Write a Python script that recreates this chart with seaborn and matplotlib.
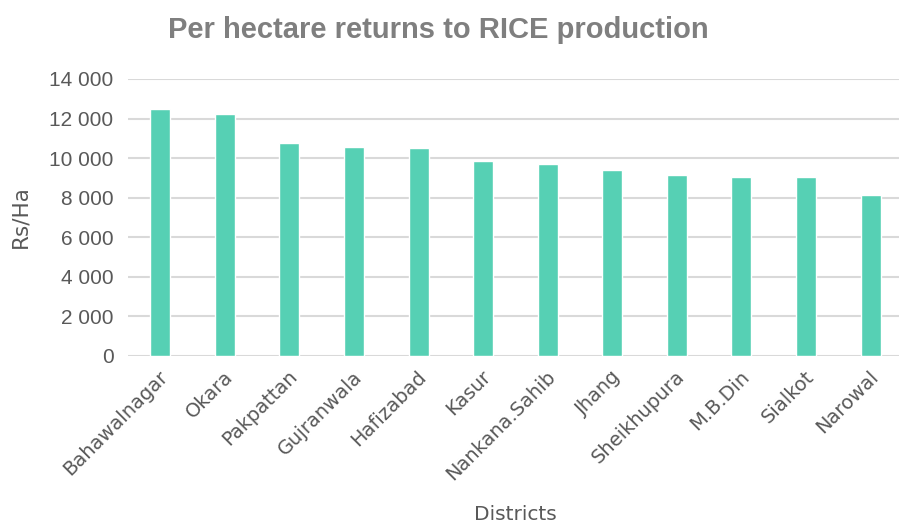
import matplotlib
matplotlib.use("Agg")
import matplotlib.pyplot as plt
import matplotlib.ticker as mticker
import matplotlib.transforms as mtrans
import seaborn as sns
import pandas as pd

districts = ["Bahawalnagar", "Okara", "Pakpattan", "Gujranwala", "Hafizabad", "Kasur",
             "Nankana.Sahib", "Jhang", "Sheikhupura", "M.B.Din", "Sialkot", "Narowal"]
returns_rs_ha = [12500, 12250, 10760, 10560, 10490, 9850, 9720, 9400, 9130, 9060, 9060, 8150]

df = pd.DataFrame({"District": districts, "Returns": returns_rs_ha})

sns.set_style("white")
plt.rcParams["font.family"] = ["Liberation Sans", "DejaVu Sans"]

fig = plt.figure(figsize=(8.99, 5.32), dpi=100)
ax = fig.add_axes([128 / 899, 1 - 355.7 / 532, 771 / 899, (355.7 - 79) / 532])

sns.barplot(data=df, x="District", y="Returns", color="#56D0B4", width=0.31,
            saturation=1, ax=ax, zorder=3)

ax.set_ylim(0, 14000)
ax.set_xlim(-0.5, 11.44)
ax.yaxis.set_major_locator(mticker.MultipleLocator(2000))
ax.yaxis.set_major_formatter(mticker.FuncFormatter(lambda v, p: f"{int(v):,}".replace(",", " ")))
ax.grid(axis="y", color="#d9d9d9", linewidth=1.5, zorder=0)
ax.grid(axis="x", visible=False)
for s in ax.spines.values():
    s.set_visible(False)

ax.tick_params(axis="y", length=0, pad=10.5, labelsize=15, labelcolor="#595959")
ax.tick_params(axis="x", length=0, pad=13)
ax.set_xticks(range(len(districts)))
ax.set_xticklabels(districts, rotation=45, ha="right", va="center", rotation_mode="anchor",
                   family="DejaVu Sans", fontsize=14, color="#595959")
shift = mtrans.ScaledTranslation(5 / 100, 0, fig.dpi_scale_trans)
for lbl in ax.get_xticklabels():
    lbl.set_transform(lbl.get_transform() + shift)

ax.set_xlabel("")
ax.set_ylabel("")
fig.text(515 / 899, 1 - 515 / 532, "Districts", ha="center", va="center",
         family="DejaVu Sans", fontsize=14.5, color="#595959")
fig.text(20 / 899, 1 - 217 / 532, "Rs/Ha", ha="center", va="center", rotation=90,
         family="DejaVu Sans", fontsize=15.5, color="#595959")

fig.text(438 / 899, 1 - 30 / 532, "Per hectare returns to RICE production",
         ha="center", va="center", fontsize=21, fontweight="bold", color="#7f7f7f")

fig.savefig("out.png", dpi=100)
